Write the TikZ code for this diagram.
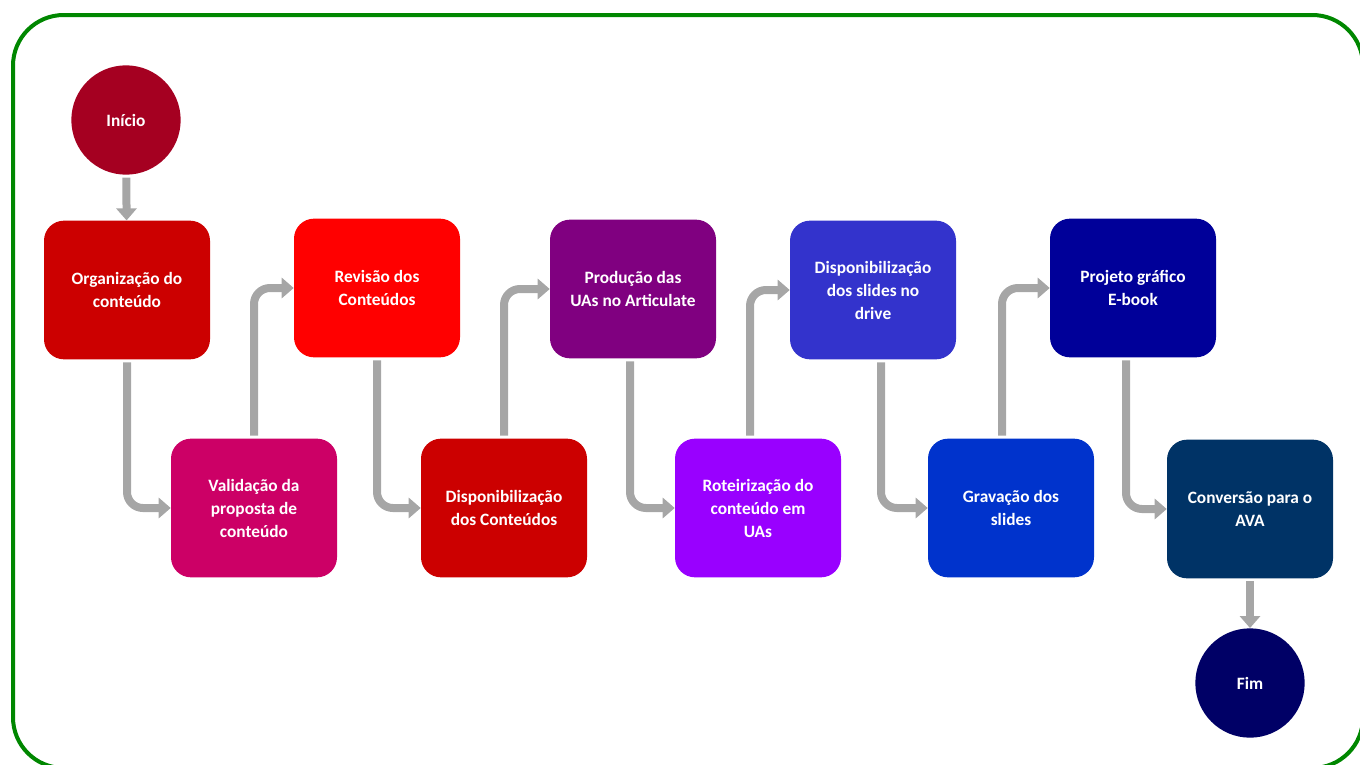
\documentclass[tikz,border=0pt]{standalone}
\usepackage{fontspec}
\setmainfont{Carlito}
\usetikzlibrary{arrows.meta,calc}
\definecolor{frameg}{RGB}{0,135,0}
\definecolor{arrg}{RGB}{166,166,166}
\definecolor{cini}{RGB}{165,0,33}
\definecolor{corg}{RGB}{204,0,0}
\definecolor{cval}{RGB}{204,0,102}
\definecolor{crev}{RGB}{255,0,0}
\definecolor{cdc}{RGB}{204,0,0}
\definecolor{cprod}{RGB}{128,0,128}
\definecolor{crot}{RGB}{153,0,255}
\definecolor{cdsl}{RGB}{51,51,204}
\definecolor{cgrav}{RGB}{0,51,204}
\definecolor{cproj}{RGB}{0,0,153}
\definecolor{cconv}{RGB}{0,51,102}
\definecolor{cfim}{RGB}{0,0,102}
\begin{document}
\begin{tikzpicture}[x=0.75pt,y=-0.75pt,
  lbl/.style={text=white, font=\bfseries\fontsize{13}{17.25}\selectfont, align=center, inner sep=0pt},
  box/.style={lbl, rectangle, rounded corners=15pt, minimum width=124.5pt, minimum height=104pt},
  term/.style={lbl, circle, minimum size=82pt},
  conn/.style={draw=arrg, line width=6pt, rounded corners=12pt, shorten <=2pt, -{Triangle[width=15pt,length=9pt]}}
]
\useasboundingbox (0,0) rectangle (1360,764);
\clip (0,0) rectangle (1360,764);
\draw[frameg, line width=3pt, rounded corners=38pt] (13,15) rectangle (1363,768);

\node[term, fill=cini] (ini) at (126,120) {Início};
\node[box, fill=corg] (org) at (127,290) {Organização do\\conteúdo};
\node[box, fill=cval] (val) at (254,508) {Validação da\\proposta de\\conteúdo};
\node[box, fill=crev] (rev) at (377,288) {Revisão dos\\Conteúdos};
\node[box, fill=cdc] (dc) at (504,508) {Disponibilização\\dos Conteúdos};
\node[box, fill=cprod] (prod) at (633,289) {Produção das\\UAs no Articulate};
\node[box, fill=crot] (rot) at (758,508) {Roteirização do\\conteúdo em\\UAs};
\node[box, fill=cdsl] (dsl) at (873,290) {Disponibilização\\dos slides no\\drive};
\node[box, fill=cgrav] (grav) at (1011,508) {Gravação dos\\slides};
\node[box, fill=cproj] (proj) at (1133,288) {Projeto gráfico\\E-book};
\node[box, fill=cconv] (conv) at (1250,509) {Conversão para o\\AVA};
\node[term, fill=cfim] (fim) at (1250,683) {Fim};

\draw[conn] (ini) -- (org);
\draw[conn] (org.south) |- (val.west);
\draw[conn] (val.north) |- (rev.west);
\draw[conn] (rev.south) |- (dc.west);
\draw[conn] (dc.north) |- (prod.west);
\draw[conn] ($(prod.south)+(-3,0)$) |- (rot.west);
\draw[conn] ($(rot.north)+(-8,0)$) |- (dsl.west);
\draw[conn] ($(dsl.south)+(8,0)$) |- (grav.west);
\draw[conn] ($(grav.north)+(-9,0)$) |- (proj.west);
\draw[conn] ($(proj.south)+(-7,0)$) |- (conv.west);
\draw[conn] (conv) -- (fim);
\end{tikzpicture}
\end{document}
